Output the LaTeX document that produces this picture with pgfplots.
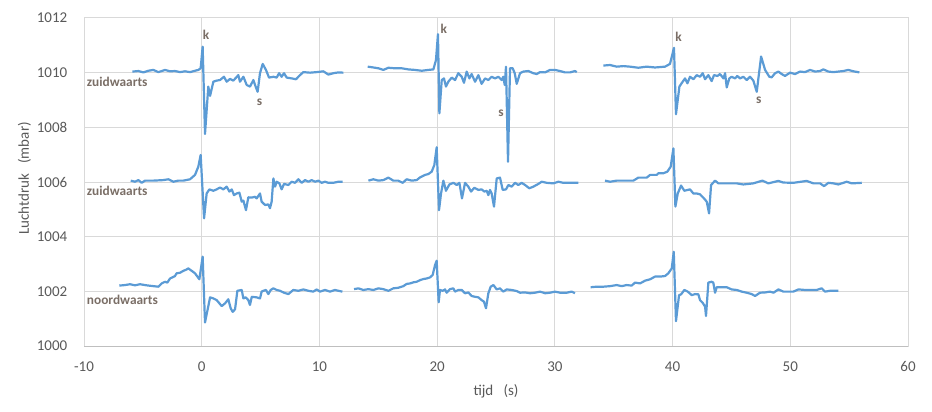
\documentclass[border=0pt]{standalone}
\usepackage{pgfplots}
\pgfplotsset{compat=1.18}
\usepackage{fontspec}
\setmainfont{Carlito}

\definecolor{xlblue}{HTML}{5B9BD5}
\definecolor{gridgray}{HTML}{D9D9D9}
\definecolor{axisgray}{HTML}{BFBFBF}
\definecolor{txtgray}{HTML}{595959}
\definecolor{lblgray}{HTML}{7A6E66}

\tikzset{
  lbl/.style={font=\fontsize{10}{12}\selectfont\bfseries, text=lblgray, inner sep=0pt},
  trace/.style={draw=xlblue, solid, line width=1.65pt, line join=round, mark=none},
}

\begin{document}
\begin{tikzpicture}
\begin{axis}[
    scale only axis,
    width=618pt, height=246pt,
    xmin=-10, xmax=60, ymin=1000, ymax=1012,
    xtick={-10,0,10,20,30,40,50,60},
    xticklabels={-10,0,10,20,30,40,50,60},
    ytick={1000,1002,1004,1006,1008,1010,1012},
    yticklabels={1000,1002,1004,1006,1008,1010,1012},
    grid=major,
    major grid style={draw=gridgray, line width=0.75pt},
    axis line style={draw=gridgray, line width=0.75pt},
    major tick length=0pt,
    tick style={draw=none},
    ticklabel style={font=\fontsize{11.25}{13}\selectfont, text=txtgray},
    yticklabel style={xshift=-9pt},
    xticklabel style={yshift=-8pt},
    xlabel={tijd\ \ \ (s)},
    ylabel={Luchtdruk\ \ \ (mbar)},
    label style={font=\fontsize{11.25}{13}\selectfont, text=txtgray},
    xlabel style={at={([yshift=-33.75pt]axis description cs:0.5,0)}, anchor=center},
    ylabel style={at={([xshift=-44.6pt]axis description cs:0,0.511)}, anchor=center},
]
% bovenste rij: zuidwaarts
\addplot[trace] coordinates {
(-5.89,1010.04) (-5.38,1010.06) (-4.96,1010.01) (-4.53,1010.07) (-4.11,1010.10) (-3.68,1010.02) (-3.12,1010.10) (-2.69,1010.05) (-2.27,1010.06) (-1.84,1010.02) (-1.42,1010.05) (-0.99,1010.02) (-0.57,1010.07) (-0.29,1010.10) (-0.09,1010.16) (0.08,1010.95) (0.28,1007.76) (0.56,1009.49) (0.71,1009.15) (0.99,1009.67) (1.27,1009.71) (1.55,1009.73) (1.89,1009.85) (2.12,1009.67) (2.40,1009.77) (2.69,1009.71) (3.11,1009.91) (3.25,1009.67) (3.54,1009.85) (3.82,1009.55) (4.10,1009.49) (4.39,1009.73) (4.58,1009.49) (4.75,1009.30) (4.95,1009.98) (5.18,1010.32) (5.46,1010.10) (5.72,1009.82) (6.09,1009.85) (6.37,1009.82) (6.57,1009.98) (6.79,1009.85) (6.99,1009.98) (7.22,1009.82) (7.64,1009.79) (8.01,1009.76) (8.35,1009.91) (8.63,1010.02) (9.20,1010.00) (9.77,1010.02) (10.33,1010.05) (10.76,1009.93) (11.18,1009.98) (11.61,1010.01) (12.03,1010.00)
};
\addplot[trace] coordinates {
(14.10,1010.22) (14.58,1010.19) (15.01,1010.16) (15.43,1010.10) (15.86,1010.18) (16.42,1010.16) (16.99,1010.16) (17.55,1010.12) (18.12,1010.10) (18.69,1010.07) (19.25,1010.10) (19.68,1010.12) (19.90,1010.46) (20.07,1011.41) (20.19,1008.51) (20.39,1009.73) (20.58,1009.79) (20.75,1009.49) (20.95,1009.67) (21.24,1009.82) (21.52,1009.73) (21.80,1009.98) (22.09,1009.85) (22.28,1009.63) (22.51,1010.04) (22.74,1009.79) (22.93,1009.95) (23.22,1009.67) (23.50,1009.91) (23.78,1009.59) (24.07,1009.79) (24.35,1009.73) (24.63,1009.85) (24.92,1009.79) (25.20,1009.85) (25.48,1009.73) (25.62,1009.85) (25.74,1009.55) (25.85,1010.22) (26.02,1006.74) (26.19,1010.16) (26.42,1010.16) (26.59,1009.98) (26.76,1009.59) (27.04,1009.98) (27.32,1010.04) (27.75,1010.06) (28.17,1009.98) (28.46,1009.95) (28.74,1010.02) (29.17,1010.01) (29.59,1010.10) (30.01,1010.10) (30.44,1010.06) (30.86,1010.01) (31.29,1010.01) (31.71,1010.06) (31.86,1010.02)
};
\addplot[trace] coordinates {
(34.12,1010.26) (34.69,1010.28) (35.25,1010.22) (35.82,1010.24) (36.39,1010.22) (37.09,1010.18) (37.80,1010.22) (38.51,1010.19) (39.36,1010.22) (39.78,1010.32) (40.12,1010.91) (40.29,1008.48) (40.58,1009.49) (40.86,1009.67) (41.06,1009.79) (41.26,1009.61) (41.48,1009.85) (41.77,1009.76) (42.05,1009.91) (42.33,1009.85) (42.56,1009.98) (42.76,1009.76) (43.04,1009.91) (43.32,1009.69) (43.52,1009.91) (43.81,1009.88) (44.03,1009.95) (44.32,1009.79) (44.46,1009.98) (44.60,1009.46) (44.82,1009.79) (45.02,1009.85) (45.31,1009.79) (45.50,1009.88) (45.73,1009.79) (46.01,1009.85) (46.30,1009.73) (46.58,1009.85) (46.86,1009.71) (47.15,1009.30) (47.52,1010.59) (47.86,1010.10) (48.22,1009.85) (48.42,1009.83) (48.71,1009.98) (48.99,1010.04) (49.27,1009.95) (49.55,1009.88) (49.98,1010.00) (50.40,1009.95) (50.83,1010.04) (51.25,1010.02) (51.68,1010.10) (52.10,1010.04) (52.53,1010.06) (52.81,1010.12) (53.24,1010.04) (53.66,1010.02) (54.08,1010.04) (54.51,1010.06) (54.93,1010.10) (55.36,1010.05) (55.87,1010.01)
};
% middelste rij: zuidwaarts
\addplot[trace] coordinates {
(-6.03,1006.05) (-5.67,1006.01) (-5.38,1006.07) (-5.10,1005.97) (-4.82,1006.05) (-4.11,1006.05) (-3.26,1006.07) (-2.83,1006.10) (-2.41,1006.01) (-1.99,1006.05) (-1.56,1006.05) (-0.99,1006.10) (-0.57,1006.26) (-0.29,1006.56) (-0.09,1006.99) (0.20,1004.67) (0.42,1005.58) (0.65,1005.73) (0.99,1005.68) (1.27,1005.73) (1.55,1005.80) (1.84,1005.73) (2.12,1005.83) (2.35,1005.65) (2.55,1005.73) (2.74,1005.52) (2.97,1005.58) (3.20,1005.61) (3.40,1005.28) (3.54,1005.32) (3.76,1004.97) (3.96,1005.44) (4.25,1005.43) (4.53,1005.46) (4.67,1005.40) (4.95,1005.58) (5.09,1005.28) (5.38,1005.16) (5.66,1005.18) (5.80,1005.04) (5.94,1005.28) (6.09,1006.13) (6.23,1005.83) (6.37,1006.01) (6.60,1005.95) (6.79,1005.73) (6.99,1005.93) (7.36,1005.89) (7.64,1006.01) (7.93,1005.97) (8.21,1006.10) (8.49,1005.97) (8.78,1006.07) (9.06,1006.01) (9.34,1006.07) (9.63,1006.01) (9.91,1006.05) (10.19,1005.97) (10.47,1006.01) (10.76,1005.97) (11.18,1005.97) (11.61,1006.01) (11.98,1006.01)
};
\addplot[trace] coordinates {
(14.16,1006.05) (14.58,1006.10) (15.01,1006.05) (15.43,1006.07) (15.86,1006.16) (16.28,1006.05) (16.70,1006.05) (17.07,1005.97) (17.41,1006.10) (17.84,1006.05) (18.26,1006.07) (18.55,1006.17) (18.97,1006.26) (19.25,1006.29) (19.54,1006.38) (19.76,1006.62) (19.96,1007.27) (20.16,1004.97) (20.33,1005.58) (20.53,1006.05) (20.75,1005.68) (21.04,1005.91) (21.38,1005.97) (21.66,1005.89) (21.89,1005.97) (22.11,1005.40) (22.37,1005.97) (22.65,1005.83) (22.88,1005.65) (23.16,1005.79) (23.50,1005.71) (23.78,1005.73) (24.01,1005.65) (24.21,1005.68) (24.35,1005.52) (24.49,1005.71) (24.63,1005.58) (24.83,1005.10) (25.06,1006.13) (25.34,1006.16) (25.57,1005.71) (25.85,1005.73) (26.05,1005.89) (26.33,1005.83) (26.62,1005.97) (26.90,1005.89) (27.18,1005.97) (27.47,1005.89) (27.83,1005.77) (28.17,1005.83) (28.60,1005.93) (28.88,1006.01) (29.31,1005.97) (29.87,1005.95) (30.30,1006.01) (30.72,1005.97) (31.29,1005.97) (32.00,1005.97)
};
\addplot[trace] coordinates {
(34.26,1006.05) (34.69,1006.01) (35.25,1006.05) (36.10,1006.05) (36.67,1006.05) (37.09,1006.16) (37.80,1006.16) (38.09,1006.26) (38.65,1006.26) (38.79,1006.32) (39.22,1006.32) (39.56,1006.38) (39.84,1006.56) (40.07,1007.23) (40.24,1005.10) (40.44,1005.58) (40.72,1005.87) (41.00,1005.68) (41.29,1005.71) (41.48,1005.73) (41.77,1005.58) (42.05,1005.58) (42.33,1005.55) (42.67,1005.40) (42.90,1005.28) (43.10,1004.85) (43.27,1005.89) (43.61,1006.05) (43.89,1005.95) (44.60,1005.95) (45.45,1005.95) (46.01,1005.91) (46.86,1005.95) (47.63,1006.05) (48.14,1005.95) (48.99,1006.04) (49.41,1005.98) (50.26,1005.97) (51.39,1006.04) (51.96,1005.95) (52.53,1005.95) (52.87,1005.85) (53.24,1005.97) (53.66,1005.95) (54.08,1005.91) (54.79,1006.01) (55.22,1005.95) (56.07,1005.97)
};
% onderste rij: noordwaarts
\addplot[trace] coordinates {
(-7.00,1002.21) (-6.52,1002.23) (-6.09,1002.26) (-5.67,1002.22) (-5.24,1002.26) (-4.68,1002.22) (-4.11,1002.19) (-3.68,1002.17) (-3.40,1002.29) (-3.12,1002.35) (-2.92,1002.32) (-2.69,1002.47) (-2.27,1002.56) (-2.13,1002.66) (-1.84,1002.68) (-1.56,1002.75) (-1.28,1002.80) (-1.14,1002.84) (-0.85,1002.75) (-0.57,1002.66) (-0.20,1002.44) (0.08,1003.27) (0.28,1000.86) (0.71,1001.78) (0.99,1001.74) (1.27,1001.68) (1.70,1001.46) (1.98,1001.56) (2.26,1001.71) (2.46,1001.38) (2.63,1001.25) (2.83,1001.34) (3.03,1002.02) (3.40,1002.05) (3.54,1001.74) (3.74,1001.78) (3.96,1001.68) (4.10,1001.50) (4.25,1001.80) (4.67,1001.78) (4.95,1001.74) (5.09,1001.99) (5.24,1002.02) (5.46,1002.05) (5.66,1001.90) (5.86,1002.05) (6.09,1002.11) (6.37,1002.05) (6.65,1002.02) (6.99,1001.95) (7.36,1001.90) (7.78,1002.05) (8.21,1002.02) (8.63,1002.07) (9.06,1002.02) (9.48,1001.99) (9.77,1002.07) (10.05,1001.99) (10.47,1002.05) (10.90,1001.99) (11.32,1002.05) (11.61,1002.02) (11.95,1001.99)
};
\addplot[trace] coordinates {
(12.94,1002.08) (13.31,1002.11) (13.73,1002.05) (14.16,1002.08) (14.58,1002.05) (15.01,1002.11) (15.43,1002.08) (15.86,1002.02) (16.28,1002.11) (16.70,1002.13) (17.13,1002.19) (17.41,1002.27) (17.70,1002.29) (17.98,1002.33) (18.26,1002.35) (18.55,1002.41) (18.83,1002.45) (19.11,1002.47) (19.40,1002.51) (19.62,1002.60) (19.82,1002.96) (19.96,1003.12) (20.13,1001.60) (20.24,1002.05) (20.47,1002.02) (20.67,1002.07) (20.81,1001.95) (21.09,1002.08) (21.38,1002.11) (21.52,1001.99) (21.80,1002.05) (22.09,1002.05) (22.37,1001.93) (22.65,1001.96) (22.93,1001.83) (23.22,1001.80) (23.50,1001.78) (23.78,1001.68) (23.98,1001.62) (24.15,1001.38) (24.35,1001.93) (24.55,1002.17) (24.78,1002.23) (25.06,1002.07) (25.34,1002.11) (25.62,1001.99) (25.91,1002.07) (26.33,1002.05) (26.76,1002.01) (27.04,1001.95) (27.47,1001.96) (27.89,1001.93) (28.32,1001.95) (28.74,1001.99) (29.17,1001.93) (29.59,1001.95) (30.01,1001.99) (30.44,1001.95) (31.01,1001.95) (31.43,1001.99) (31.71,1001.93)
};
\addplot[trace] coordinates {
(33.04,1002.15) (33.55,1002.17) (34.12,1002.17) (34.69,1002.19) (35.25,1002.23) (35.68,1002.19) (36.10,1002.23) (36.53,1002.21) (36.81,1002.32) (37.24,1002.29) (37.66,1002.39) (38.09,1002.44) (38.51,1002.54) (38.94,1002.54) (39.36,1002.56) (39.64,1002.66) (39.93,1002.84) (40.10,1003.45) (40.29,1000.91) (40.55,1001.86) (40.72,1001.89) (41.00,1002.05) (41.29,1001.99) (41.63,1001.86) (41.91,1001.90) (42.19,1001.89) (42.33,1001.68) (42.56,1001.58) (42.76,1001.44) (42.84,1001.10) (43.04,1002.32) (43.32,1002.35) (43.46,1002.32) (43.61,1001.95) (43.75,1002.15) (44.17,1002.15) (44.60,1002.15) (45.02,1002.07) (45.45,1002.05) (45.87,1001.99) (46.30,1001.95) (46.72,1001.90) (47.01,1001.83) (47.43,1001.95) (47.86,1001.96) (48.28,1001.99) (48.57,1001.95) (48.99,1002.07) (49.41,1001.99) (49.84,1001.99) (50.26,1001.99) (50.69,1002.07) (51.25,1002.05) (51.68,1002.05) (52.24,1002.05) (52.67,1002.11) (52.95,1001.99) (53.38,1002.02) (53.80,1002.02) (54.08,1002.02)
};
\draw[axisgray, line width=0.75pt] (rel axis cs:0,0) -- (rel axis cs:1,0);
\node[lbl, anchor=west] at (axis cs:-9.77,1009.66) {zuidwaarts};
\node[lbl, anchor=west] at (axis cs:-9.77,1005.67) {zuidwaarts};
\node[lbl, anchor=west] at (axis cs:-9.77,1001.68) {noordwaarts};
\node[lbl] at (axis cs:0.37,1011.38) {k};
\node[lbl] at (axis cs:4.91,1008.93) {s};
\node[lbl] at (axis cs:20.56,1011.60) {k};
\node[lbl] at (axis cs:25.43,1008.52) {s};
\node[lbl] at (axis cs:40.52,1011.30) {k};
\node[lbl] at (axis cs:47.32,1009.00) {s};
\end{axis}
\pgfresetboundingbox
\path ([shift={(-63pt,-48.75pt)}]current axis.south west) rectangle ([shift={(18pt,13.5pt)}]current axis.north east);
\end{tikzpicture}
\end{document}
